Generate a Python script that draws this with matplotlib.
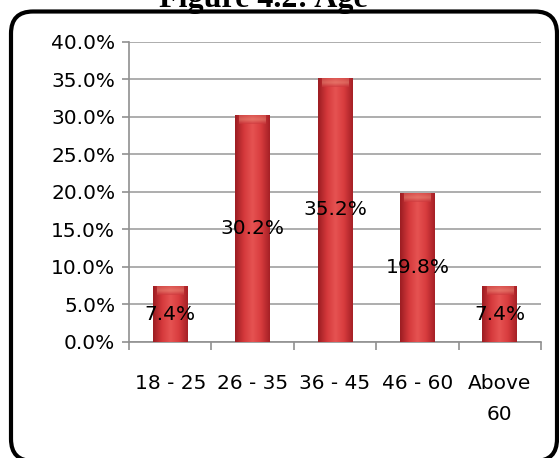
import numpy as np
import matplotlib.pyplot as plt
from matplotlib.patches import FancyBboxPatch
from matplotlib.ticker import FuncFormatter, FixedLocator
from matplotlib.colors import LinearSegmentedColormap

# data
age_groups = ['18 - 25', '26 - 35', '36 - 45', '46 - 60', 'Above\n60']
shares = [7.4, 30.2, 35.2, 19.8, 7.4]
labels = ['7.4%', '30.2%', '35.2%', '19.8%', '7.4%']

plt.rcParams['font.family'] = ['DejaVu Sans']

fig = plt.figure(figsize=(5.59, 4.58), dpi=100)
ax = fig.add_axes([0.2308, 0.2533, 0.737, 0.655])

x = np.arange(len(shares))
bar_w = 0.42

# red "cylinder" look: horizontal gradient inside each bar
red_cmap = LinearSegmentedColormap.from_list(
    'bar', ['#9c1d22', '#d4383b', '#e65352', '#d83c3e', '#a52026'])
grad = np.linspace(0, 1, 64).reshape(1, -1)
cap_cmap = LinearSegmentedColormap.from_list(
    'cap', ['#c9343a', '#e88a78', '#d85a55'])
cap_grad = np.linspace(0, 1, 32).reshape(-1, 1)

bars = ax.bar(x, shares, width=bar_w, color='#c92f35', zorder=2)
for b in bars:
    x0 = b.get_x()
    h = b.get_height()
    im = ax.imshow(grad, cmap=red_cmap, aspect='auto', zorder=3,
                   extent=[x0, x0 + bar_w, 0, h], interpolation='bicubic')
    im.set_clip_path(b)
    # softer lighter cap at the top
    ax.imshow(cap_grad, cmap=cap_cmap, aspect='auto', zorder=4, alpha=0.6,
              extent=[x0 + bar_w * 0.12, x0 + bar_w * 0.88, h - 1.2, h],
              interpolation='bicubic', origin='lower')

for xi, v, lab in zip(x, shares, labels):
    ax.text(xi, v / 2, lab, ha='center', va='center', fontsize=14.5, zorder=5)

ax.set_xlim(-0.5, len(shares) - 0.5)
ax.set_ylim(0, 40)
ax.set_yticks(np.arange(0, 40.1, 5))
ax.yaxis.set_major_formatter(FuncFormatter(lambda v, p: '%.1f%%' % v))
ax.yaxis.grid(True, color='#a0a0a0', linewidth=1.2, zorder=0)
ax.set_axisbelow(True)

ax.set_xticks(x)
ax.set_xticklabels(age_groups, fontsize=14.5, linespacing=1.8)
ax.xaxis.set_minor_locator(FixedLocator(np.arange(-0.5, len(shares), 1)))
ax.tick_params(axis='x', which='major', length=0, pad=23)
ax.tick_params(axis='x', which='minor', length=6, color='#909090', width=1.2)
ax.tick_params(axis='y', length=5, color='#909090', width=1.2, labelsize=14.5, pad=5)

for s in ['top', 'right']:
    ax.spines[s].set_visible(False)
for s in ['left', 'bottom']:
    ax.spines[s].set_color('#909090')
    ax.spines[s].set_linewidth(1.2)

# title, mostly cut off at the top edge (as in the original)
fig.text(0.4705, (458 - 6.5) / 458, 'Figure 4.2: Age', ha='center', va='baseline',
         fontsize=23, fontweight='bold', family='Liberation Serif')

# rounded frame around the chart
frame = FancyBboxPatch((0.11, -0.03), 5.46, 4.495,
                       boxstyle='round,pad=0,rounding_size=0.22',
                       transform=fig.dpi_scale_trans, fill=False,
                       edgecolor='black', linewidth=3, clip_on=False, zorder=10)
fig.add_artist(frame)

fig.savefig('out.png', dpi=100)
